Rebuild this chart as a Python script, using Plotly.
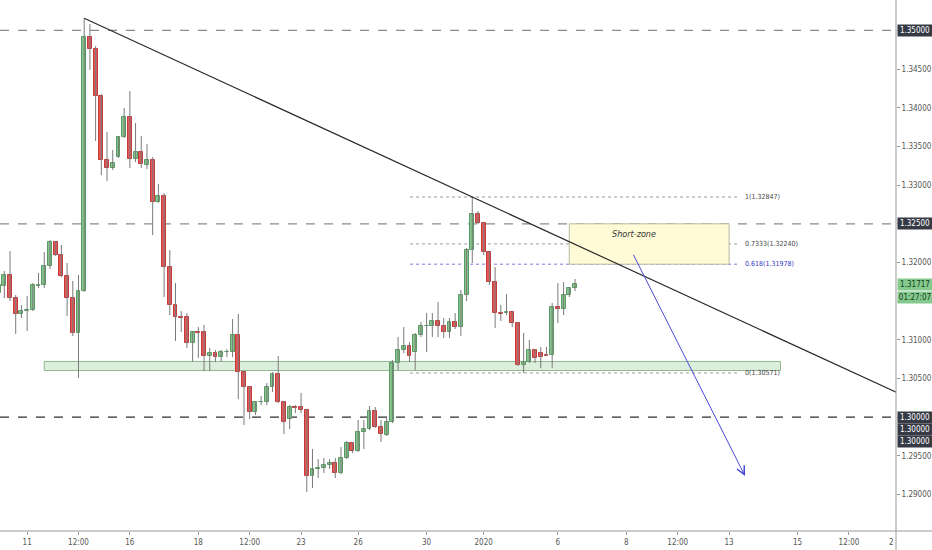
import plotly.graph_objects as go

# ---------------- data (4H candles, index = bar number) ----------------
opens = [1.31605,1.31695,1.31838,1.31540,1.31333,1.31372,1.31385,1.31702,1.31708,1.31954,
         1.32265,1.32096,1.31825,1.31540,1.31088,1.31631,1.34916,1.34760,1.34153,1.33325,
         1.33221,1.33364,1.33622,1.33881,1.33338,1.33428,1.33260,1.33325,1.32782,1.32859,
         1.31941,1.31450,1.31295,1.31295,1.30958,1.31101,1.31101,1.30790,1.30829,1.30777,
         1.30842,1.30842,1.31062,1.30583,1.30389,1.30066,1.30195,1.30195,1.30389,1.30557,
         1.30195,1.29976,1.30131,1.30131,1.30092,1.29238,1.29335,1.29342,1.29381,1.29407,
         1.29277,1.29471,1.29665,1.29562,1.29807,1.29846,1.30079,1.29872,1.29769,1.29937,
         1.30700,1.30868,1.30920,1.30842,1.31062,1.31178,1.31178,1.31243,1.31178,1.31101,
         1.31230,1.31165,1.31579,1.32161,1.32627,1.32510,1.32135,1.31747,1.31346,1.31353,
         1.31359,1.31217,1.30674,1.30713,1.30868,1.30829,1.30803,1.30803,1.31424,1.31398,
         1.31579,1.31670]
highs = [1.31747,1.31889,1.32148,1.31579,1.31450,1.31566,1.31734,1.31864,1.32135,1.32290,
         1.32277,1.32226,1.31993,1.31760,1.31838,1.35161,1.35084,1.34799,1.34178,1.33687,
         1.33454,1.33635,1.33997,1.34217,1.33803,1.33635,1.33532,1.33364,1.33015,1.32898,
         1.32161,1.31734,1.31372,1.31346,1.31114,1.31165,1.31191,1.30894,1.30868,1.30868,
         1.30881,1.31269,1.31333,1.30596,1.30402,1.30208,1.30273,1.30441,1.30583,1.30790,
         1.30208,1.30157,1.30157,1.30312,1.30105,1.29588,1.29458,1.29471,1.29458,1.29471,
         1.29613,1.29691,1.29678,1.29963,1.29963,1.30144,1.30131,1.29963,1.30001,1.30739,
         1.31036,1.31165,1.30971,1.31088,1.31230,1.31346,1.31346,1.31489,1.31282,1.31282,
         1.31346,1.31644,1.32187,1.32847,1.32665,1.32523,1.32148,1.31941,1.31450,1.31592,
         1.31372,1.31230,1.31088,1.30997,1.30881,1.30907,1.30907,1.31476,1.31734,1.31747,
         1.31683,1.31786]
lows = [1.31566,1.31540,1.31502,1.31075,1.31282,1.31114,1.31372,1.31670,1.31670,1.31915,
        1.32083,1.31812,1.31308,1.31049,1.30506,1.31618,1.34489,1.33571,1.33131,1.33053,
        1.33196,1.33351,1.33609,1.33221,1.33299,1.33221,1.33208,1.32355,1.32769,1.31553,
        1.31320,1.30984,1.31101,1.30894,1.30713,1.30764,1.30596,1.30596,1.30713,1.30713,
        1.30777,1.30777,1.30234,1.29898,1.29976,1.30027,1.30157,1.30157,1.30325,1.30182,
        1.29782,1.29846,1.30053,1.30053,1.29031,1.29083,1.29213,1.29277,1.29329,1.29213,
        1.29264,1.29458,1.29536,1.29549,1.29588,1.29833,1.29859,1.29678,1.29756,1.29924,
        1.30609,1.30829,1.30713,1.30609,1.31036,1.30842,1.31036,1.31036,1.31023,1.31023,
        1.31139,1.31049,1.31502,1.31993,1.32497,1.32096,1.31708,1.31152,1.31243,1.31320,
        1.31165,1.30661,1.30571,1.30700,1.30700,1.30635,1.30790,1.30635,1.31217,1.31320,
        1.31553,1.31631]
closes = [1.31708,1.31838,1.31540,1.31333,1.31372,1.31385,1.31708,1.31708,1.31954,1.32265,
          1.32096,1.31825,1.31540,1.31088,1.31631,1.34916,1.34760,1.34153,1.33325,1.33221,
          1.33286,1.33622,1.33881,1.33338,1.33428,1.33273,1.33325,1.32782,1.32859,1.31941,
          1.31450,1.31295,1.31288,1.30958,1.31101,1.31094,1.30790,1.30829,1.30777,1.30842,
          1.30848,1.31062,1.30583,1.30389,1.30066,1.30195,1.30202,1.30389,1.30557,1.30195,
          1.29937,1.30131,1.30124,1.30092,1.29238,1.29329,1.29342,1.29381,1.29407,1.29277,
          1.29471,1.29665,1.29562,1.29807,1.29846,1.30079,1.29872,1.29782,1.29937,1.30700,
          1.30868,1.30920,1.30790,1.31062,1.31178,1.31185,1.31243,1.31178,1.31101,1.31230,
          1.31165,1.31579,1.32161,1.32627,1.32510,1.32135,1.31747,1.31346,1.31340,1.31359,
          1.31217,1.30674,1.30713,1.30868,1.30764,1.30777,1.30797,1.31424,1.31398,1.31579,
          1.31670,1.31717]
bar_index = list(range(len(opens)))

x_tick_index = [5, 14, 23, 35, 44, 53, 63, 75, 85, 98, 110, 119, 128, 140, 149]
x_tick_labels = ['11', '12:00', '16', '18', '12:00', '23', '26', '30', '2020',
                 '6', '8', '12:00', '13', '15', '12:00']
y_ticks = [1.290, 1.295, 1.300, 1.305, 1.310, 1.315, 1.320, 1.325, 1.330,
           1.335, 1.340, 1.345, 1.350]
# ticks whose label is covered by a price box on the scale
y_boxed = [1.300, 1.315, 1.325, 1.350]

h_levels = [1.35, 1.325, 1.30]
h_colors = ['#8c8c8c', '#8c8c8c', '#2e2e2e']

trend_x = [15, 158]
trend_y = [1.35158, 1.30297]

fib_x = [72.1, 129.9]
fib_ratios = ['1', '0.7333', '0.618', '0']
fib_levels = [1.32847, 1.32240, 1.31978, 1.30571]
fib_colors = ['#9a9a9a', '#9a9a9a', '#7777dd', '#9a9a9a']
fib_text_colors = ['#444444', '#444444', '#3535c8', '#444444']
fib_label_x = 130.4

support_x = [8, 137]
support_y = [1.30603, 1.30720]

short_x = [100, 128]
short_y = [1.31978, 1.32500]
short_label = 'Short-zone'
short_label_pos = [111.3, 1.32368]

arrow_tail = [111.1, 1.32119]
arrow_tip = [130.8, 1.29239]

last_price = 1.31717
countdown = '01:27:07'

x_range = [0.2465, 157.245]
y_range = [1.28528, 1.35394]

FONT = 'Liberation Sans Narrow, Arial Narrow, DejaVu Sans Condensed, Liberation Sans, Arial, sans-serif'

# ---------------- traces ----------------
wx, wy = [], []
for i, h, l in zip(bar_index, highs, lows):
    wx += [i, i, None]
    wy += [l, h, None]

base, height, fill, edge = [], [], [], []
for o, c in zip(opens, closes):
    base.append(min(o, c))
    height.append(max(abs(c - o), 0.00004))
    if c >= o:
        fill.append('#84c48d'); edge.append('#5a9a63')
    else:
        fill.append('#e45757'); edge.append('#c23c3c')

fig = go.Figure()
fig.add_trace(go.Scatter(x=wx, y=wy, mode='lines', line=dict(color='#7a7a7a', width=1),
                         hoverinfo='skip', showlegend=False))
fig.add_trace(go.Bar(x=bar_index, y=height, base=base, width=0.68,
                     marker=dict(color=fill, line=dict(color=edge, width=1)),
                     hoverinfo='skip', showlegend=False))
fig.add_trace(go.Scatter(x=trend_x, y=trend_y, mode='lines',
                         line=dict(color='#2a2a2a', width=1.2),
                         hoverinfo='skip', showlegend=False))

shapes = []
for lv, col in zip(h_levels, h_colors):
    shapes.append(dict(type='line', xref='paper', x0=0, x1=1, yref='y', y0=lv, y1=lv,
                       line=dict(color=col, width=1.2, dash='dash'), layer='below'))
for lv, col in zip(fib_levels, fib_colors):
    shapes.append(dict(type='line', xref='x', x0=fib_x[0], x1=fib_x[1], yref='y', y0=lv, y1=lv,
                       line=dict(color=col, width=1, dash='dot'), layer='below'))
shapes.append(dict(type='rect', xref='x', x0=support_x[0], x1=support_x[1], yref='y',
                   y0=support_y[0], y1=support_y[1], fillcolor='rgba(196,228,196,0.6)',
                   line=dict(color='#8fb98f', width=1), layer='below'))
shapes.append(dict(type='rect', xref='x', x0=short_x[0], x1=short_x[1], yref='y',
                   y0=short_y[0], y1=short_y[1], fillcolor='#fffbd6',
                   line=dict(color='#b9b8a2', width=1), layer='below'))
# axis frame lines (right price scale + bottom time scale)
shapes.append(dict(type='line', xref='paper', x0=1, x1=1, yref='paper', y0=-19/531, y1=1,
                   line=dict(color='#9a9a9a', width=1)))
shapes.append(dict(type='line', xref='paper', x0=0, x1=932/896, yref='paper', y0=0, y1=0,
                   line=dict(color='#9a9a9a', width=1)))

ann = []
for r, lv, tc in zip(fib_ratios, fib_levels, fib_text_colors):
    ann.append(dict(xref='x', x=fib_label_x, yref='y', y=lv, xanchor='left', yanchor='middle',
                    text=f'{r}({lv:.5f})', showarrow=False,
                    font=dict(family=FONT, size=7, color=tc)))
ann.append(dict(xref='x', x=short_label_pos[0], yref='y', y=short_label_pos[1],
                text=f'<i>{short_label}</i>', showarrow=False,
                font=dict(family=FONT, size=9, color='#333333')))
ann.append(dict(xref='x', x=arrow_tip[0], yref='y', y=arrow_tip[1],
                axref='x', ax=arrow_tail[0], ayref='y', ay=arrow_tail[1],
                text='', showarrow=True, arrowhead=5, arrowsize=1.6, arrowwidth=1,
                arrowcolor='#4a4ad8', standoff=0, startstandoff=0))

def price_box(y, text, bg, fg, yshift=0):
    return dict(xref='paper', x=1, xanchor='left', xshift=1, yref='y', y=y, yanchor='middle',
                yshift=yshift, text=text, showarrow=False, bgcolor=bg, width=34, height=11,
                borderpad=0, align='center', font=dict(family=FONT, size=8, color=fg))

ann.append(price_box(1.35, '1.35000', '#363a45', '#ffffff'))
ann.append(price_box(1.325, '1.32500', '#363a45', '#ffffff'))
for k in range(3):
    ann.append(price_box(1.30, '1.30000', '#363a45', '#ffffff', yshift=-12 * k))
ann.append(price_box(last_price, f'{last_price:.5f}', '#86c98f', '#123f18'))
ann.append(price_box(last_price, countdown, '#86c98f', '#123f18', yshift=-13))
ann.append(dict(xref='paper', x=1, xanchor='right', yref='paper', y=0, yanchor='top', yshift=-5,
                text='2', showarrow=False, font=dict(family=FONT, size=8, color='#555555')))

y_ticktext = ['' if any(abs(v - b) < 1e-9 for b in y_boxed) else f'{v:.5f}' for v in y_ticks]

fig.update_layout(
    width=932, height=550,
    margin=dict(l=0, r=36, t=0, b=19, pad=0),
    paper_bgcolor='white', plot_bgcolor='white',
    showlegend=False, bargap=0, hovermode=False,
    shapes=shapes, annotations=ann,
    xaxis=dict(range=x_range, tickvals=x_tick_index, ticktext=x_tick_labels,
               ticks='outside', ticklen=3, tickcolor='#9a9a9a', showgrid=False,
               zeroline=False, showline=False, automargin=False, fixedrange=True,
               tickfont=dict(family=FONT, size=8, color='#555555')),
    yaxis=dict(range=y_range, side='right', tickvals=y_ticks, ticktext=y_ticktext,
               ticks='outside', ticklen=3, tickcolor='#9a9a9a', showgrid=False,
               zeroline=False, showline=False, automargin=False, fixedrange=True,
               tickfont=dict(family=FONT, size=8, color='#555555')),
)

fig.write_html('out.html', config={'displayModeBar': False},
               post_script="document.body.style.margin='0px';document.body.style.overflow='hidden';")
